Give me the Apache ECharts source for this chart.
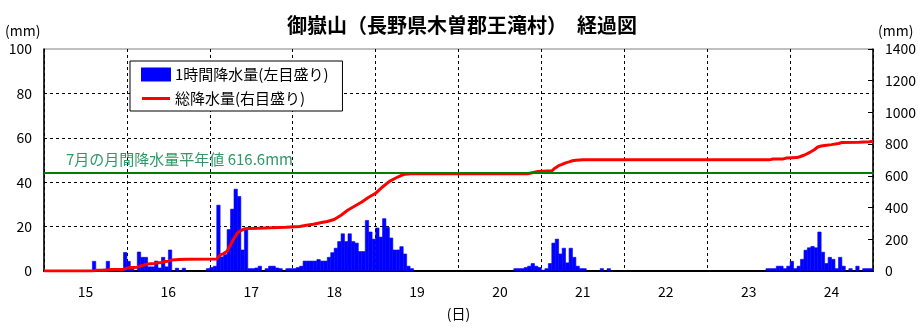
<!DOCTYPE html>
<html>
<head>
<meta charset="utf-8">
<script src="https://cdn.jsdelivr.net/npm/echarts@6/dist/echarts.min.js"></script>
<style>
html, body { margin: 0; padding: 0; background: #fff; }
#main { width: 924px; height: 330px; }
</style>
</head>
<body>
<div id="main"></div>
<script>
// 日付ラベル（各日の中央に表示）
var days = ['15', '16', '17', '18', '19', '20', '21', '22', '23', '24'];

// 1時間降水量 : 15日0時からの経過時間(h) と 値(mm)、0 の時間は省略
var rainHour = [14, 17, 18, 23, 24, 25, 27, 28, 29, 30, 31, 32, 33, 34, 35, 36, 38, 40,
    47, 48, 49, 50, 51, 52, 53, 54, 55, 56, 57, 58, 59, 60, 61, 62, 64, 65, 66, 67, 68, 70, 71,
    72, 73, 74, 75, 76, 77, 78, 79, 80, 81, 82, 83, 84, 85, 86, 87, 88, 89, 90, 91, 92, 93, 94, 95,
    96, 97, 98, 99, 100, 101, 102, 103, 104, 105, 106,
    136, 137, 138, 139, 140, 141, 142, 143, 144, 145, 146, 147, 148, 149, 150, 151, 152, 153, 154, 155, 156,
    161, 163,
    209, 210, 211, 212, 213, 214, 215, 216, 217, 218, 219, 220, 221, 222, 223, 224, 225, 226, 227, 228, 229,
    230, 231, 233, 235, 237, 238, 239];
var rainMm = [4.5, 1.0, 4.5, 8.5, 4.5, 1.5, 8.7, 6.3, 6.3, 2.0, 2.0, 4.6, 1.5, 6.3, 2.0, 9.6, 1.4, 1.4,
    1.2, 1.7, 2.3, 29.8, 6.5, 7.5, 18.8, 28.0, 37.0, 33.7, 9.6, 18.8, 1.2, 1.2, 1.5, 2.3, 1.2, 2.3, 2.3, 1.5, 1.2, 1.2, 1.2,
    1.2, 1.7, 2.3, 4.6, 4.6, 4.6, 4.6, 5.3, 4.6, 4.6, 6.3, 8.4, 10.4, 13.4, 16.9, 13.4, 16.9, 13.4, 12.7, 8.9, 8.9, 22.9, 17.7, 14.5,
    19.5, 15.4, 23.7, 19.8, 15.0, 9.6, 9.6, 11.1, 7.8, 2.3, 1.2,
    1.2, 1.2, 1.2, 1.7, 2.3, 3.5, 2.3, 1.7, 0.5, 1.2, 3.5, 12.7, 14.5, 7.8, 10.4, 3.8, 10.4, 6.3, 2.3, 1.2, 1.2,
    1.2, 1.2,
    1.2, 1.2, 1.2, 2.3, 2.3, 1.2, 2.3, 4.5, 1.2, 2.3, 5.4, 9.5, 10.6, 11.2, 10.6, 17.7, 8.6, 3.5, 6.3, 5.4, 1.2,
    6.3, 2.3, 1.2, 2.3, 1.2, 1.2, 1.2];

// 総降水量 : 経過時間(h) と 値(mm)
var totalHour = [0, 14, 15, 18, 19, 23, 24, 25, 27, 28, 29, 30, 32, 33, 34, 35, 36, 37, 39, 41,
    50, 51, 52, 53, 54, 55, 56, 57, 58, 59, 62, 66, 70, 74,
    76, 78, 80, 82, 84, 86, 88, 90, 92, 94, 96, 98, 100, 102, 103, 104, 106,
    140, 140.5, 143, 147, 148, 149, 150, 151, 152, 153, 154, 156,
    210, 211, 214, 215, 218, 219, 220, 221, 222, 223, 224, 225, 226, 228, 230, 231, 236, 239, 240];
var totalMm = [0, 0, 4, 5, 9, 10, 18, 22, 24, 32, 38, 44, 48, 52, 54, 60, 62, 70, 72, 74,
    75, 102, 110, 125, 165, 205, 240, 255, 266, 268, 270, 273, 276, 281,
    288, 295, 304, 312, 325, 352, 385, 410, 435, 465, 490, 530, 565, 588, 598, 608, 613,
    613, 624, 628, 632, 650, 664, 672, 682, 688, 695, 699, 701,
    701, 706, 707, 713, 715, 722, 730, 740, 752, 765, 782, 788, 792, 797, 804, 810, 812, 815, 818];

// 7月の月間降水量平年値
var normalJuly = 616.6;

var font = '"Noto Sans CJK JP", sans-serif';

var rainData = rainHour.map(function (h, i) { return [h + 0.5, rainMm[i]]; });
var totalData = totalHour.map(function (h, i) { return [h, totalMm[i]]; });

var myChart = echarts.init(document.getElementById('main'));

var option = {
    animation: false,
    backgroundColor: '#fff',
    title: {
        text: '御嶽山（長野県木曽郡王滝村）　経過図',
        left: 'center',
        top: 10,
        textStyle: { fontFamily: font, fontSize: 20, fontWeight: 'bold', color: '#000' }
    },
    legend: {
        orient: 'vertical',
        left: 130,
        top: 61,
        padding: [6, 14, 5, 11],
        itemWidth: 28,
        itemHeight: 12,
        itemGap: 9,
        backgroundColor: '#fff',
        borderColor: '#000',
        borderWidth: 1,
        borderRadius: 0,
        textStyle: { fontFamily: font, fontSize: 15, color: '#000' },
        data: [
            { name: '1時間降水量(左目盛り)', icon: 'rect' },
            { name: '総降水量(右目盛り)', icon: 'path://M0,0 H28 V3 H0 Z' }
        ]
    },
    graphic: [
        { type: 'text', left: 5, top: 24, style: { text: '(mm)', font: '14px ' + font, fill: '#000' } },
        { type: 'text', left: 878, top: 24, style: { text: '(mm)', font: '14px ' + font, fill: '#000' } }
    ],
    grid: {
        left: 44,
        right: 51,
        top: 49,
        bottom: 59,
        containLabel: false,
        outerBoundsMode: 'none',
        show: true,
        borderColor: '#808080',
        borderWidth: 1
    },
    xAxis: [
        {
            type: 'category',
            data: days,
            boundaryGap: true,
            name: '(日)',
            nameLocation: 'middle',
            nameGap: 36,
            nameTextStyle: { fontFamily: font, fontSize: 14, color: '#000' },
            axisLine: { lineStyle: { color: '#000', width: 2 } },
            axisTick: { show: false },
            axisLabel: { fontFamily: font, fontSize: 14, color: '#000', margin: 14 },
            splitLine: { show: true, lineStyle: { color: '#000', type: [3, 3], width: 1 } }
        },
        {
            type: 'value',
            min: 0,
            max: 240,
            show: false,
            splitLine: { show: false }
        }
    ],
    yAxis: [
        {
            type: 'value',
            min: 0,
            max: 100,
            interval: 20,
            axisLine: { show: true, lineStyle: { color: '#000', width: 1.5 } },
            axisTick: { show: false },
            axisLabel: { fontFamily: font, fontSize: 14, color: '#000', margin: 12 },
            splitLine: { show: true, showMinLine: false, showMaxLine: false, lineStyle: { color: '#000', type: [3, 3], width: 1 } }
        },
        {
            type: 'value',
            min: 0,
            max: 1400,
            interval: 200,
            position: 'right',
            axisLine: { show: true, lineStyle: { color: '#000', width: 1.5 } },
            axisTick: { show: true, inside: true, length: 5, lineStyle: { color: '#000' } },
            axisLabel: {
                fontFamily: font, fontSize: 14, color: '#000', margin: 12,
                formatter: function (v) { return String(v); }
            },
            splitLine: { show: false }
        }
    ],
    series: [
        {
            name: '1時間降水量(左目盛り)',
            type: 'bar',
            xAxisIndex: 1,
            yAxisIndex: 0,
            barWidth: '115%',
            itemStyle: { color: '#0000ff', borderColor: '#0000ff', borderWidth: 0.6 },
            data: rainData
        },
        {
            name: '総降水量(右目盛り)',
            type: 'line',
            xAxisIndex: 1,
            yAxisIndex: 1,
            symbol: 'none',
            itemStyle: { color: '#ff0000' },
            lineStyle: { color: '#ff0000', width: 3 },
            data: totalData,
            markLine: {
                silent: true,
                symbol: 'none',
                lineStyle: { color: '#008000', width: 2, type: 'solid' },
                label: {
                    show: true,
                    position: 'insideStartTop',
                    distance: [22, 6],
                    formatter: '7月の月間降水量平年値 ' + normalJuly + 'mm',
                    fontFamily: font,
                    fontSize: 15,
                    color: '#2e9966'
                },
                data: [{ yAxis: normalJuly }]
            }
        }
    ]
};

myChart.setOption(option);
</script>
</body>
</html>
